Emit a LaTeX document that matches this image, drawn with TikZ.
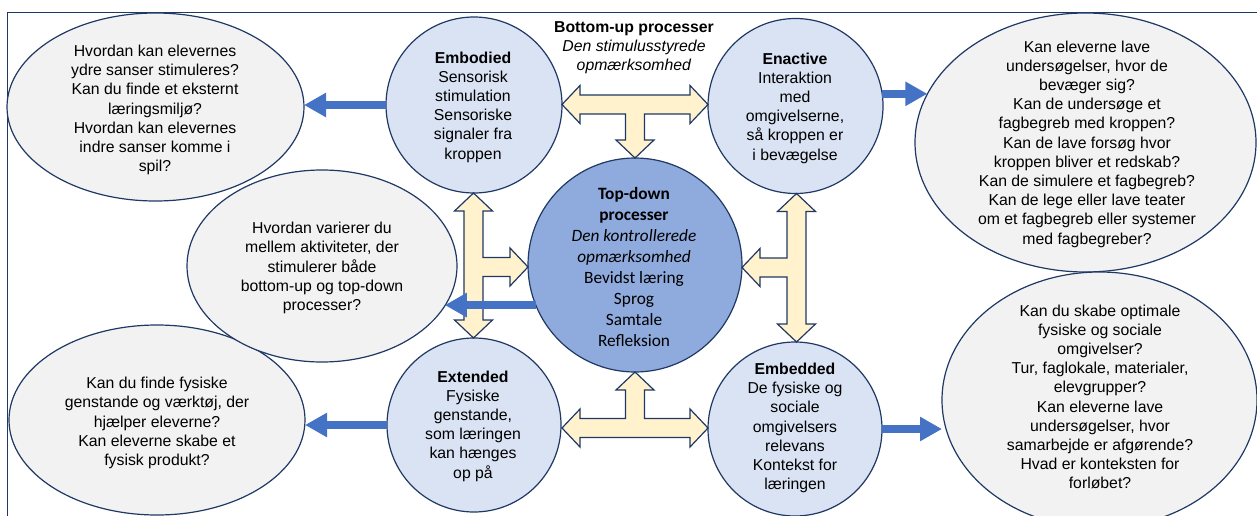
\documentclass[tikz,border=0pt]{standalone}
\usepackage{fontspec}
\setmainfont{Liberation Sans}
\newfontfamily\calib{Carlito}
\usetikzlibrary{arrows.meta,shapes.geometric}
\definecolor{navy}{HTML}{1F3864}
\definecolor{lblue}{HTML}{DAE3F3}
\definecolor{mblue}{HTML}{8FAADC}
\definecolor{lgrey}{HTML}{F2F2F2}
\definecolor{yel}{HTML}{FFF2CC}
\definecolor{bblue}{HTML}{4472C4}
\begin{document}
\begin{tikzpicture}[x=1pt,y=-1pt,
  circ/.style={circle,draw=navy,line width=1.2pt,fill=lblue,inner sep=0pt,outer sep=0pt},
  ell/.style={ellipse,draw=navy,line width=1.2pt,fill=lgrey,inner sep=0pt,outer sep=0pt},
  txt/.style={align=center,font=\fontsize{15.8}{19.2}\selectfont,inner sep=0pt},
  cal/.style={align=center,font=\calib\fontsize{17.3}{21}\selectfont,inner sep=0pt},
  yarr/.style={draw=navy,line width=1.2pt,fill=yel,line join=miter},
  barr/.style={draw=bblue,line width=8pt,-{Triangle[length=22pt,width=23pt]}},
  frame/.style={draw=navy,line width=1.2pt}
]
\useasboundingbox (0,0) rectangle (1257,516);
\clip (0,0) rectangle (1257,516);
\draw[frame] (7.5,520) -- (7.5,12.5) -- (1260,12.5);

% grey ellipses
\node[ell,minimum width=297pt,minimum height=188pt] (tl) at (155.5,107) {};
\node[ell,minimum width=296pt,minimum height=190pt] (bl) at (157,420) {};
\node[ell,minimum width=270pt,minimum height=192pt] (mid) at (322,266) {};
\node[ell,minimum width=341pt,minimum height=259pt] (tr) at (1085.5,142.5) {};
\node[ell,minimum width=315pt,minimum height=256pt] (br) at (1099.5,400) {};

% circles
\node[circ,minimum size=176pt] (emb) at (474,105) {};
\node[circ,minimum size=175pt] (ena) at (795.5,106) {};
\node[circ,minimum size=174pt] (ext) at (474,425) {};
\node[circ,minimum size=174pt] (emd) at (795,429) {};
\node[circ,fill=mblue,minimum size=214pt] (td) at (635,265) {};

% yellow block arrows
\draw[yarr] (562,104.5) -- (580,85.5) -- (580,95) -- (690,95) -- (690,85.5) -- (708,104.5)
  -- (690,123.5) -- (690,114) -- (644.5,114) -- (644.5,140) -- (654,140) -- (635,158)
  -- (616,140) -- (625.5,140) -- (625.5,114) -- (580,114) -- (580,123.5) -- cycle;
\draw[yarr] (562,428) -- (580,409) -- (580,418.5) -- (625.5,418.5) -- (625.5,390) -- (616,390)
  -- (635,372) -- (654,390) -- (644.5,390) -- (644.5,418.5) -- (690,418.5) -- (690,409)
  -- (708,428) -- (690,447) -- (690,437.5) -- (580,437.5) -- (580,447) -- cycle;
\draw[yarr] (473.5,193) -- (492.5,211) -- (483,211) -- (483,257.5) -- (510,257.5) -- (510,248)
  -- (528,267) -- (510,286) -- (510,276.5) -- (483,276.5) -- (483,320) -- (492.5,320)
  -- (473.5,338) -- (454.5,320) -- (464,320) -- (464,211) -- (454.5,211) -- cycle;
\draw[yarr] (796.5,193.5) -- (815.5,211.5) -- (806,211.5) -- (806,324) -- (815.5,324)
  -- (796.5,342) -- (777.5,324) -- (787,324) -- (787,277) -- (760,277) -- (760,286.5)
  -- (742,267.5) -- (760,248.5) -- (760,258) -- (787,258) -- (787,211.5) -- (777.5,211.5) -- cycle;

% blue arrows
\draw[barr] (emb.west) -- (emb.west -| tl.east);
\draw[barr] (ena.8) -- (ena.8 -| tr.163);
\draw[barr] (td.202) -- (td.202 -| mid.-18);
\draw[barr] (ext.west) -- (ext.west -| bl.east);
\draw[barr] (emd.east) -- (emd.east -| br.west);

% texts
\node[txt] (tltxt) at (155,110) {Hvordan kan elevernes\\ydre sanser stimuleres?\\Kan du finde et eksternt\\læringsmiljø?\\Hvordan kan elevernes\\indre sanser komme i\\spil?};
\node[txt] (embtxt) at (473,107) {\textbf{Embodied}\\Sensorisk\\stimulation\\Sensoriske\\signaler fra\\kroppen};
\node[txt] (butxt) at (634,48) {\textbf{Bottom-up processer}\\\textit{Den stimulusstyrede}\\\textit{opmærksomhed}};
\node[txt] (enatxt) at (795,108) {\textbf{Enactive}\\Interaktion\\med\\omgivelserne,\\så kroppen er\\i bevægelse};
\node[txt] (trtxt) at (1087,144) {Kan eleverne lave\\undersøgelser, hvor de\\bevæger sig?\\Kan de undersøge et\\fagbegreb med kroppen?\\Kan de lave forsøg hvor\\kroppen bliver et redskab?\\Kan de simulere et fagbegreb?\\Kan de lege eller lave teater\\om et fagbegreb eller systemer\\med fagbegreber?};
\node[txt] (midtxt) at (322,268) {Hvordan varierer du\\mellem aktiviteter, der\\stimulerer både\\bottom-up og top-down\\processer?};
\node[cal] (tdtxt) at (634,267) {\textbf{Top-down}\\\textbf{processer}\\\textit{Den kontrollerede}\\\textit{opmærksomhed}\\Bevidst læring\\Sprog\\Samtale\\Refleksion};
\node[txt] (bltxt) at (157,423) {Kan du finde fysiske\\genstande og værktøj, der\\hjælper eleverne?\\Kan eleverne skabe et\\fysisk produkt?};
\node[txt] (exttxt) at (473,426) {\textbf{Extended}\\Fysiske\\genstande,\\som læringen\\kan hænges\\op på};
\node[txt] (emdtxt) at (795,428) {\textbf{Embedded}\\De fysiske og\\sociale\\omgivelsers\\relevans\\Kontekst for\\læringen};
\node[txt] (brtxt) at (1100,397) {Kan du skabe optimale\\fysiske og sociale\\omgivelser?\\Tur, faglokale, materialer,\\elevgrupper?\\Kan eleverne lave\\undersøgelser, hvor\\samarbejde er afgørende?\\Hvad er konteksten for\\forløbet?};
\end{tikzpicture}
\end{document}
